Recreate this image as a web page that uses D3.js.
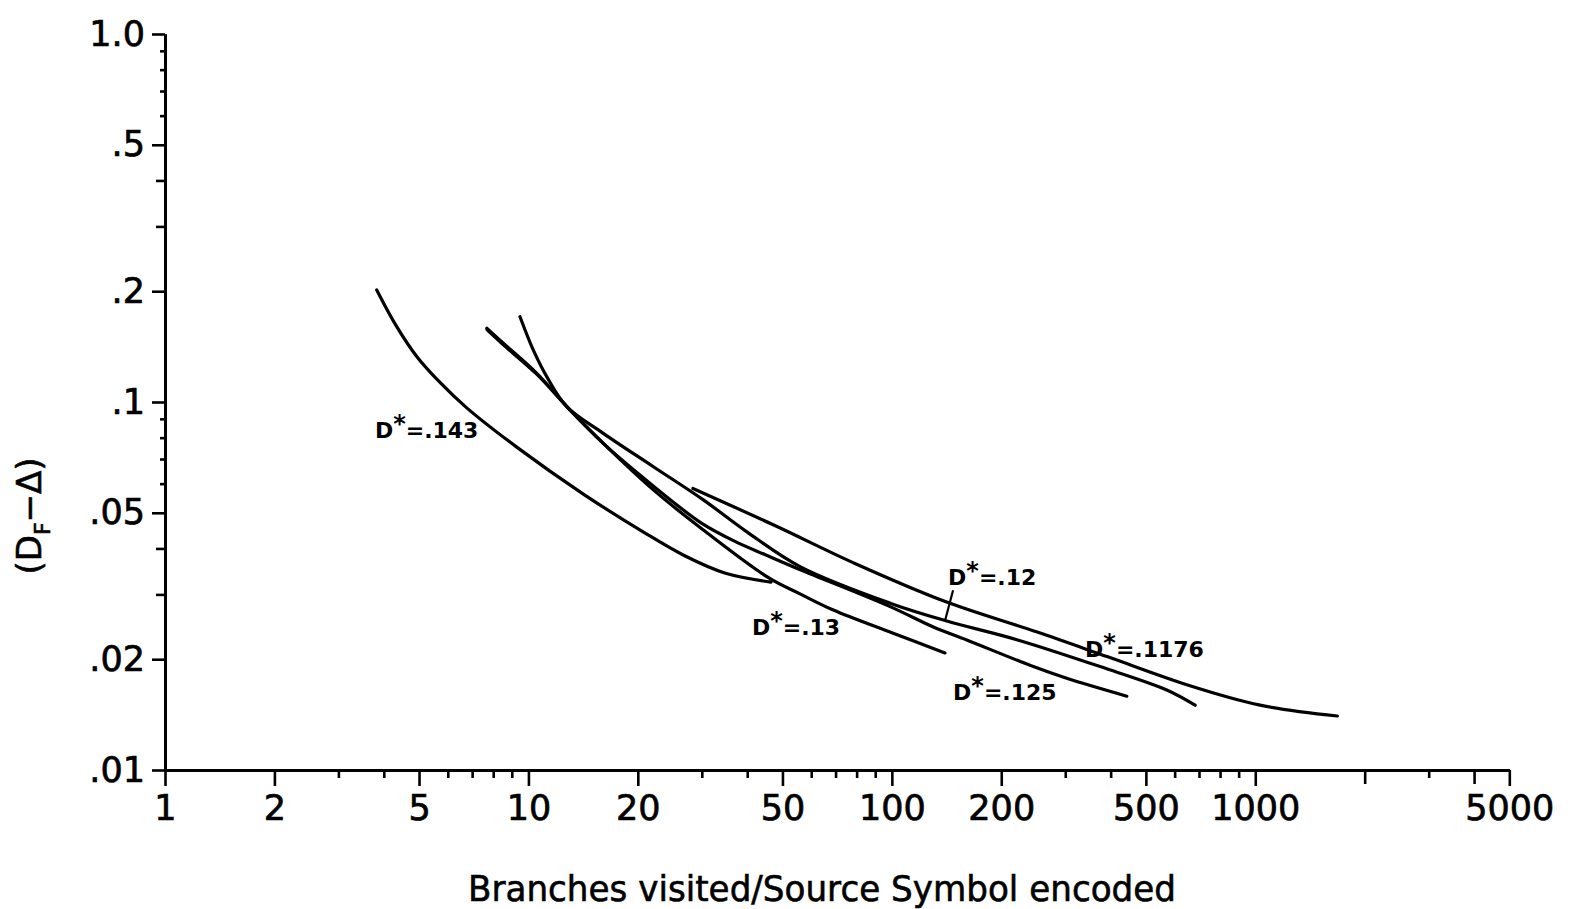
<!DOCTYPE html>
<html><head><meta charset="utf-8">
<script src="https://cdn.jsdelivr.net/npm/d3@7"></script>
<style>body{margin:0;background:#fff} svg{display:block}</style>
</head><body>
<svg id="chart" width="1579" height="909"></svg>
<script>
// ---- data ----
const xTickValues = [1, 2, 5, 10, 20, 50, 100, 200, 500, 1000, 5000];
const xTickLabels = ["1", "2", "5", "10", "20", "50", "100", "200", "500", "1000", "5000"];
const yTickValues = [1, 0.5, 0.2, 0.1, 0.05, 0.02, 0.01];
const yTickLabels = ["1.0", ".5", ".2", ".1", ".05", ".02", ".01"];
const xTitle = "Branches visited/Source Symbol encoded";

const x143 = [3.825, 4.295, 4.928, 5.711, 6.765, 9.286, 14.16, 20.89, 26.91, 34.69, 46.52];
const y143 = [0.2015, 0.1631, 0.1330, 0.1130, 0.0964, 0.0754, 0.0562, 0.0441, 0.0382, 0.0343, 0.0324];

const x13 = [7.68, 8.53, 10.54, 13.02, 16.07, 22.07, 30.29, 46.0, 55.9, 69.0, 100, 140];
const y13 = [0.1586, 0.1444, 0.1197, 0.0951, 0.0772, 0.0577, 0.0449, 0.0332, 0.0301, 0.0272, 0.0236, 0.0208];

const x125 = [7.7, 8.53, 10.54, 13.02, 16.07, 20, 25, 30, 37, 45, 56, 98.9, 130.1, 160.7, 245.1, 304.2, 443];
const y125 = [0.157, 0.143, 0.119, 0.0951, 0.0772, 0.064, 0.0535, 0.0468, 0.0418, 0.0384, 0.0350, 0.0278, 0.02446, 0.02256, 0.0191, 0.01772, 0.01587];

const x12 = [9.48, 10.31, 11.23, 12.75, 16.07, 22.07, 30.29, 40, 55.9, 98.9, 141.6, 220.7, 374.1, 570.8, 683];
const y12 = [0.1705, 0.1385, 0.1172, 0.0971, 0.0822, 0.0667, 0.0542, 0.0443, 0.0357, 0.0284, 0.0254, 0.0226, 0.0191, 0.0165, 0.0150];

const x1176 = [28.35, 47.8, 79.7, 141.5, 251.2, 392.8, 654.4, 1023, 1682];
const y1176 = [0.0582, 0.0461, 0.0363, 0.0286, 0.0237, 0.0203, 0.0170, 0.01503, 0.01402];

// curve labels (anchor in data units)
const labelText = ["143", "13", "125", "12", "1176"];
const labelX = [3.78, 41.2, 147.4, 142.8, 340.1];
const labelY = [0.0798, 0.0233, 0.0155, 0.0318, 0.0203];
// leader line from the ".12" label to its curve
const leaderX = [147.4, 140];
const leaderY = [0.0308, 0.0254];

// ---- chart ----
const svg = d3.select("#chart");
const FONT = "DejaVu Sans, Verdana, sans-serif";
const x = d3.scaleLog().domain([1, 5000]).range([165, 1509.3]);
const y = d3.scaleLog().domain([0.01, 1]).range([770, 34]);

const series = [
  [x143, y143], [x13, y13], [x125, y125], [x12, y12], [x1176, y1176]
].map(([xs, ys]) => xs.map((v, i) => [v, ys[i]]));

// minor ticks
const xMinor = [], xMid = [];
[1, 10, 100, 1000].forEach(dec => {
  for (let k = 2; k <= 9; k++) {
    const v = k * dec;
    if (v > 5000) continue;
    if (xTickValues.includes(v)) continue;
    if (v === 2000 || v === 4000) xMid.push(v); else xMinor.push(v);
  }
});
const yShort = [], yMed = [];
[0.1, 0.01].forEach(dec => {
  [6, 7, 8, 9].forEach(k => yShort.push(k * dec));
  [3, 4].forEach(k => yMed.push(k * dec));
});

function styleAxis(g) {
  g.selectAll(".domain").attr("stroke", "#000").attr("stroke-width", 2.6);
  g.selectAll(".tick line").attr("stroke", "#000").attr("stroke-width", 2.6);
  g.selectAll("text").attr("font-family", FONT).attr("font-size", 35).attr("fill", "#000")
    .attr("stroke", "#000").attr("stroke-width", 0.7);
}

const gx = svg.append("g").attr("transform", `translate(0,${y(0.01)})`);
gx.append("g").call(d3.axisBottom(x).tickValues(xMinor).tickSize(8).tickFormat("").tickSizeOuter(0)).call(styleAxis);
gx.append("g").call(d3.axisBottom(x).tickValues(xMid).tickSize(14).tickFormat("").tickSizeOuter(0)).call(styleAxis);
gx.append("g").call(d3.axisBottom(x).tickValues(xTickValues).tickSize(16).tickPadding(9)
  .tickFormat((d, i) => xTickLabels[i]).tickSizeOuter(0)).call(styleAxis);

const gy = svg.append("g").attr("transform", `translate(${x(1)},0)`);
gy.append("g").call(d3.axisLeft(y).tickValues(yShort).tickSize(5).tickFormat("").tickSizeOuter(0)).call(styleAxis);
gy.append("g").call(d3.axisLeft(y).tickValues(yMed).tickSize(9).tickFormat("").tickSizeOuter(0)).call(styleAxis);
gy.append("g").call(d3.axisLeft(y).tickValues(yTickValues).tickSize(13).tickPadding(7)
  .tickFormat((d, i) => yTickLabels[i]).tickSizeOuter(0)).call(styleAxis);

// curves
const line = d3.line().x(d => x(d[0])).y(d => y(d[1])).curve(d3.curveCatmullRom.alpha(0.5));
svg.append("g").selectAll("path").data(series).join("path")
  .attr("d", line).attr("fill", "none").attr("stroke", "#000")
  .attr("stroke-width", 3.2).attr("stroke-linecap", "round").attr("stroke-linejoin", "round");

// leader
svg.append("path").datum(leaderX.map((v, i) => [v, leaderY[i]]))
  .attr("d", d3.line().x(d => x(d[0])).y(d => y(d[1])))
  .attr("stroke", "#000").attr("stroke-width", 2.2).attr("fill", "none");

// labels
const lab = svg.append("g").attr("font-family", FONT).attr("font-size", 22).attr("font-weight", "bold").attr("fill", "#000");
labelText.forEach((t, i) => {
  const tx = lab.append("text").attr("x", x(labelX[i])).attr("y", y(labelY[i]));
  tx.append("tspan").text("D");
  tx.append("tspan").attr("dy", -6).attr("font-size", 24).text("*");
  tx.append("tspan").attr("dy", 6).text("=." + t);
});

// axis titles
svg.append("text").attr("x", 822).attr("y", 901).attr("text-anchor", "middle")
  .attr("font-family", FONT).attr("font-size", 36).attr("stroke", "#000").attr("stroke-width", 0.6)
  .attr("textLength", 708).attr("lengthAdjust", "spacingAndGlyphs").text(xTitle);

const yt = svg.append("text").attr("transform", "translate(41,516) rotate(-90)")
  .attr("text-anchor", "middle").attr("font-family", FONT).attr("font-size", 34)
  .attr("stroke", "#000").attr("stroke-width", 0.6);
yt.append("tspan").text("(D");
yt.append("tspan").attr("dy", 9).attr("font-size", 22).text("F");
yt.append("tspan").attr("dy", -9).text("\u2212\u0394)");
</script>
</body></html>
